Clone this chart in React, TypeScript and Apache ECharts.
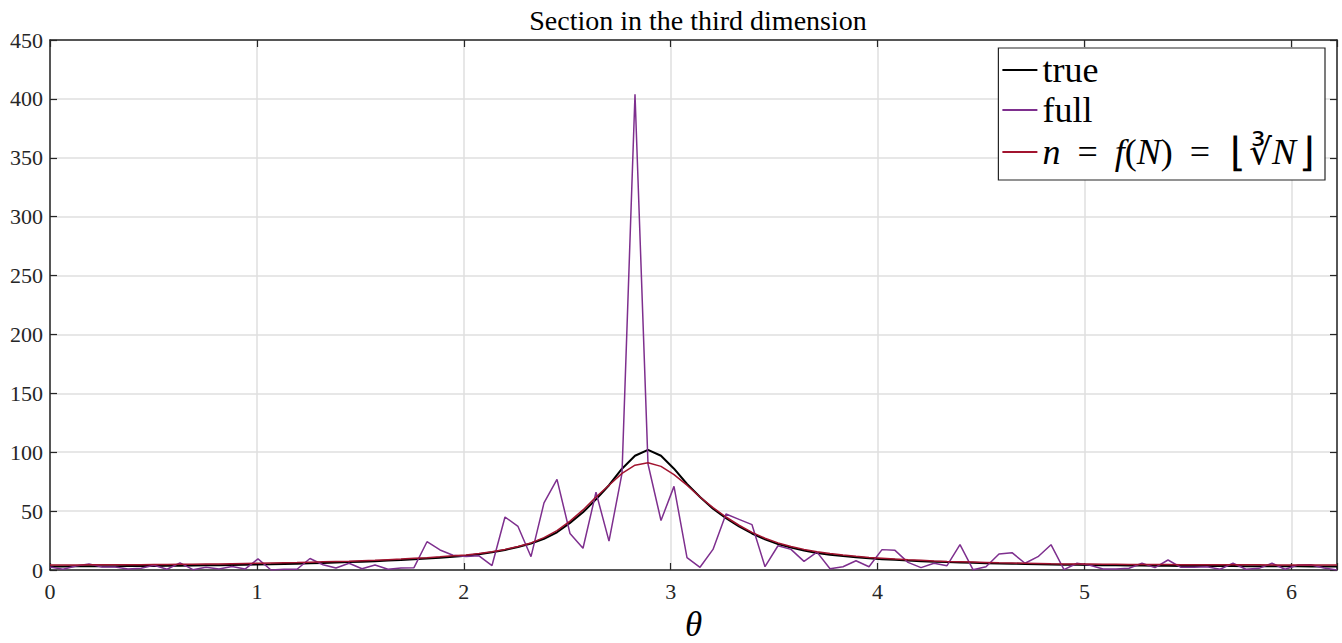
import React, { useEffect, useRef } from 'react';
import * as echarts from 'echarts';

// sampling grid: theta_i = i * 2π / 100, i = 0..99
const SAMPLE_COUNT = 100;
const THETA_STEP = (2 * Math.PI) / SAMPLE_COUNT;
const X_MAX = (SAMPLE_COUNT - 1) * THETA_STEP;

const titleText = 'Section in the third dimension';
const seriesNames = ['true', 'full', 'n = f(N) = ⌊∛N⌋'];

const trueValues = [
  3.0, 3.0, 3.1, 3.1, 3.2, 3.2, 3.3, 3.4, 3.5, 3.6,
  3.7, 3.8, 4.0, 4.1, 4.3, 4.5, 4.7, 4.9, 5.2, 5.4,
  5.7, 6.0, 6.3, 6.7, 7.1, 7.5, 8.0, 8.5, 9.1, 9.8,
  10.5, 11.2, 12.0, 13.3, 15.0, 17.0, 19.5, 22.5, 26.5, 32.0,
  40.0, 49.0, 60.0, 72.0, 86.0, 97.0, 102.0, 97.0, 86.0, 73.0,
  62.0, 52.0, 44.0, 37.0, 31.0, 26.0, 22.0, 19.0, 16.5, 14.5,
  13.0, 11.8, 10.8, 9.9, 9.2, 8.6, 8.0, 7.5, 7.1, 6.7,
  6.4, 6.1, 5.8, 5.5, 5.3, 5.1, 4.9, 4.7, 4.5, 4.4,
  4.2, 4.1, 4.0, 3.9, 3.8, 3.7, 3.6, 3.5, 3.5, 3.4,
  3.3, 3.3, 3.2, 3.2, 3.1, 3.1, 3.1, 3.0, 3.0, 3.0,
];

const fullValues = [
  2.5, 0.6, 3.4, 5.2, 2.6, 2.6, 0.8, 1.5, 4.0, 0.6,
  6.0, 0.3, 2.3, 0.8, 3.0, 0.8, 9.4, 0.0, 0.6, 0.6,
  9.8, 4.5, 1.7, 5.7, 1.1, 4.2, 0.6, 1.7, 2.0, 24.0,
  17.0, 12.5, 11.5, 12.0, 3.8, 45.0, 37.0, 11.3, 57.0, 77.0,
  31.0, 18.5, 66.0, 24.5, 82.0, 404.0, 90.0, 42.0, 71.0, 10.5,
  2.3, 17.5, 47.5, 43.0, 38.5, 2.8, 20.6, 17.5, 7.3, 15.2,
  1.1, 2.8, 7.9, 2.8, 17.3, 16.7, 6.5, 2.0, 5.7, 3.7,
  21.5, 0.3, 2.8, 13.6, 14.7, 5.7, 11.3, 21.5, 0.3, 5.7,
  4.0, 0.8, 0.8, 1.5, 5.7, 2.0, 8.5, 2.3, 2.3, 2.8,
  0.6, 5.7, 0.6, 1.4, 5.7, 0.6, 4.2, 4.5, 1.7, 0.0,
];

const cubeRootValues = [
  4.3, 4.3, 4.3, 4.4, 4.4, 4.4, 4.5, 4.5, 4.6, 4.7,
  4.8, 4.9, 5.0, 5.1, 5.3, 5.5, 5.7, 5.9, 6.1, 6.3,
  6.6, 6.9, 7.2, 7.5, 7.9, 8.3, 8.8, 9.3, 9.9, 10.5,
  11.2, 12.0, 12.8, 14.0, 15.5, 17.5, 20.0, 23.0, 27.5, 33.5,
  41.5, 51.0, 62.0, 72.0, 82.0, 89.0, 91.0, 88.0, 81.0, 72.0,
  62.0, 53.0, 45.0, 38.0, 32.0, 27.0, 23.0, 20.0, 17.5, 15.5,
  14.0, 12.7, 11.6, 10.7, 10.0, 9.3, 8.7, 8.2, 7.7, 7.3,
  7.0, 6.7, 6.4, 6.1, 5.9, 5.7, 5.5, 5.3, 5.2, 5.1,
  5.0, 4.9, 4.8, 4.7, 4.7, 4.6, 4.6, 4.5, 4.5, 4.5,
  4.4, 4.4, 4.4, 4.4, 4.3, 4.3, 4.3, 4.3, 4.3, 4.3,
];

const Y_MIN = 0;
const Y_MAX = 450;
const Y_STEP = 50;
const X_STEP = 1;

const FONT = 'Liberation Serif, serif';
const AXIS_COLOR = '#262626';
const GRID_COLOR = '#dfdfdf';

const toPairs = (vals: number[]) => vals.map((v, i) => [i * THETA_STEP, v]);

export default function App() {
  const ref = useRef<HTMLDivElement>(null);

  useEffect(() => {
    if (!ref.current) return;
    const chart = echarts.init(ref.current, undefined, { renderer: 'svg' });

    const commonX = {
      type: 'value' as const,
      min: 0,
      max: X_MAX,
      interval: X_STEP,
    };
    const commonY = {
      type: 'value' as const,
      min: Y_MIN,
      max: Y_MAX,
      interval: Y_STEP,
    };
    const edgeAxisLine = { show: true, onZero: false, lineStyle: { color: AXIS_COLOR, width: 1.5 } };
    const edgeTick = { show: true, inside: true, length: 7, lineStyle: { color: AXIS_COLOR, width: 1.2 } };

    chart.setOption({
      animation: false,
      backgroundColor: '#ffffff',
      title: {
        text: titleText,
        left: 693,
        textAlign: 'center',
        top: 1,
        textStyle: { fontFamily: FONT, fontSize: 28, fontWeight: 'normal', color: '#000' },
      },
      grid: {
        left: 50,
        width: 1287,
        top: 40,
        height: 530,
        containLabel: false,
        outerBoundsMode: 'none',
      },
      legend: {
        orient: 'vertical',
        right: 17,
        top: 48,
        data: seriesNames,
        icon: 'rect',
        backgroundColor: '#ffffff',
        borderColor: AXIS_COLOR,
        borderWidth: 1.2,
        borderRadius: 0,
        padding: [4, 10, 8, 4],
        itemWidth: 35,
        itemHeight: 2,
        itemGap: 4,
        selectedMode: false,
        textStyle: {
          fontFamily: FONT,
          fontSize: 36,
          color: '#000',
          rich: {
            i: { fontFamily: FONT, fontSize: 36, fontStyle: 'italic', color: '#000' },
            eq: { fontFamily: FONT, fontSize: 36, color: '#000', padding: [0, 17] },
            br: { fontFamily: FONT, fontSize: 40, color: '#000', padding: [0, 3] },
          },
        },
        formatter: (name: string) =>
          name === seriesNames[2]
            ? '{i|n}{eq|=}{i|f}({i|N}){eq|=}{br|⌊}∛{i|N}{br|⌋}'
            : name,
      },
      xAxis: [
        {
          ...commonX,
          position: 'bottom',
          name: 'θ',
          nameLocation: 'middle',
          nameGap: 33,
          nameTextStyle: {
            fontFamily: FONT,
            fontSize: 35,
            lineHeight: 35,
            fontStyle: 'italic',
            color: '#000',
          },
          axisLine: edgeAxisLine,
          axisTick: edgeTick,
          axisLabel: {
            margin: 10,
            fontFamily: FONT,
            fontSize: 22,
            color: AXIS_COLOR,
            formatter: (v: number) => (Math.abs(v - Math.round(v)) < 1e-9 ? String(Math.round(v)) : ''),
          },
          splitLine: { show: true, lineStyle: { color: GRID_COLOR, width: 1.5 } },
        },
        {
          ...commonX,
          position: 'top',
          axisLine: edgeAxisLine,
          axisTick: edgeTick,
          axisLabel: { show: false },
          splitLine: { show: false },
        },
      ],
      yAxis: [
        {
          ...commonY,
          position: 'left',
          axisLine: edgeAxisLine,
          axisTick: edgeTick,
          axisLabel: { margin: 7, fontFamily: FONT, fontSize: 22, color: AXIS_COLOR },
          splitLine: { show: true, lineStyle: { color: GRID_COLOR, width: 1.5 } },
        },
        {
          ...commonY,
          position: 'right',
          axisLine: edgeAxisLine,
          axisTick: edgeTick,
          axisLabel: { show: false },
          splitLine: { show: false },
        },
      ],
      series: [
        {
          name: seriesNames[0],
          type: 'line',
          xAxisIndex: 0,
          yAxisIndex: 0,
          data: toPairs(trueValues),
          symbol: 'none',
          lineStyle: { color: '#000000', width: 2 },
          itemStyle: { color: '#000000' },
          z: 3,
        },
        {
          name: seriesNames[1],
          type: 'line',
          xAxisIndex: 0,
          yAxisIndex: 0,
          data: toPairs(fullValues),
          symbol: 'none',
          lineStyle: { color: '#7E2F8E', width: 1.5 },
          itemStyle: { color: '#7E2F8E' },
          z: 4,
        },
        {
          name: seriesNames[2],
          type: 'line',
          xAxisIndex: 0,
          yAxisIndex: 0,
          data: toPairs(cubeRootValues),
          symbol: 'none',
          lineStyle: { color: '#A2142F', width: 1.5 },
          itemStyle: { color: '#A2142F' },
          z: 5,
        },
      ],
    });

    return () => chart.dispose();
  }, []);

  return (
    <div
      ref={ref}
      style={{ position: 'fixed', left: 0, top: 0, width: 1342, height: 643, background: '#fff' }}
    />
  );
}
